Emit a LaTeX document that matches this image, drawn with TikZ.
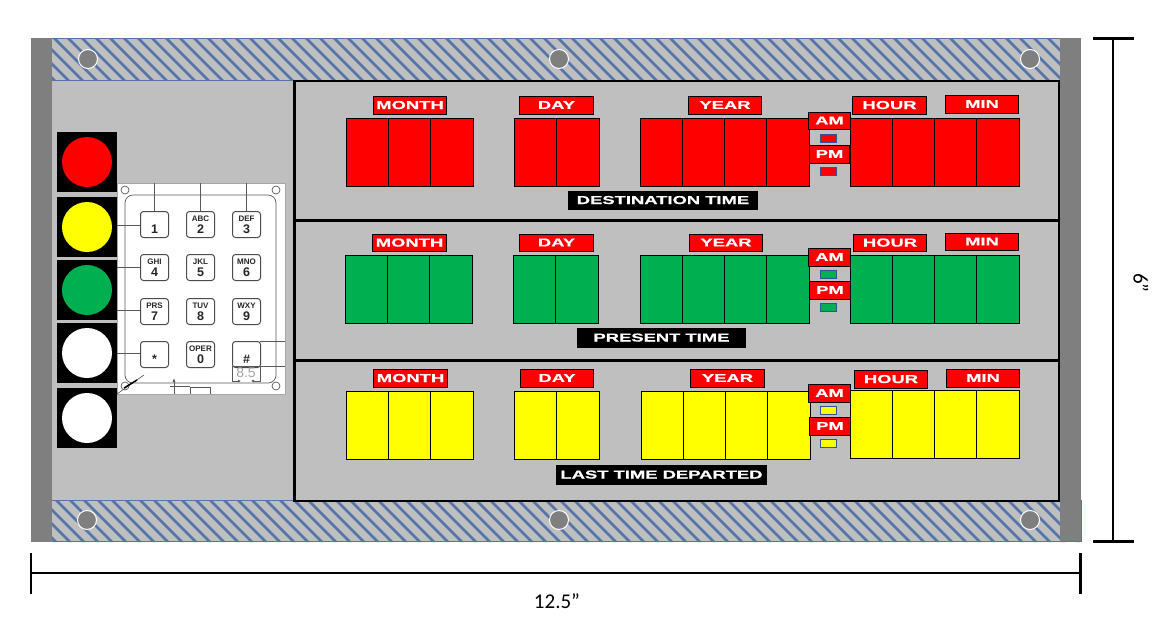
\documentclass[tikz,border=0pt]{standalone}
\usepackage{fontspec}
\setmainfont{Carlito}
\newfontfamily\widefont[FakeStretch=1.6,FakeBold=0.6]{Liberation Sans Bold}
\newfontfamily\keyfont{Liberation Sans Bold}
\newfontfamily\dimfont{Liberation Sans}
\usetikzlibrary{arrows.meta}
\definecolor{panelgrey}{HTML}{BFBFBF}
\definecolor{bargrey}{HTML}{7F7F7F}
\definecolor{hatchblue}{HTML}{5575A8}
\definecolor{okgreen}{HTML}{00B050}
\definecolor{smallblue}{HTML}{2F5597}
\definecolor{pureyellow}{HTML}{FFFF00}
\definecolor{purered}{HTML}{FF0000}
\tikzset{
 px/.style={x=1pt,y=-1pt},
 tagbox/.style={draw=black,line width=1pt,outer sep=0pt,fill=purered,text=white,inner sep=0pt,font=\widefont\fontsize{11.5}{12}\selectfont},
 capbox/.style={draw=black,line width=1pt,outer sep=0pt,fill=black,text=white,inner sep=0pt,font=\widefont\fontsize{11.5}{12}\selectfont},
 seg/.style={draw=black,line width=1pt},
 keybox/.style={draw=black!70,line width=1pt,rounded corners=3pt,fill=white,inner sep=0pt,align=center,text=black!85,anchor=north west,minimum width=28pt,minimum height=26pt},
 kline/.style={draw=black!65,line width=.7pt},
 screw/.style={draw=white,line width=1pt,fill=bargrey},
 dim/.style={draw=black,line width=2.6pt},
}
% box with text, by its corners: name, style, x1, y1, x2, y2, text
\newcommand{\labelbox}[7]{\node[#2,minimum width=#5pt-#3pt-1pt,minimum height=#6pt-#4pt-1pt,anchor=center] (#1) at ({(#3+#5)/2},{(#4+#6)/2}) {\raisebox{1pt}{#7}};}
\newcommand{\kk}[2]{{\keyfont\fontsize{8}{8}\selectfont #1}\\[0pt]{\keyfont\fontsize{12.5}{11}\selectfont #2}}
\begin{document}
\begin{tikzpicture}[px]
\useasboundingbox (0,0) rectangle (1162,622);
% panel
\fill[panelgrey] (31,38) rectangle (1081,542);
% hatched bands
\begin{scope}
 \clip (52,38) rectangle (1060,80) (52,500) rectangle (1081,542);
 \foreach \i in {0,...,84} {\draw[hatchblue,line width=2.6pt] ({\i*14-10},30) -- ({\i*14+50},90);}
 \foreach \i in {0,...,84} {\draw[hatchblue,line width=2.6pt] ({\i*14-10},490) -- ({\i*14+50},550);}
\end{scope}
\draw[hatchblue,line width=.9pt] (52,38.5) -- (1060,38.5) (52,80) -- (294,80) (52,500) -- (294,500) (31,541.5) -- (1081,541.5) -- (1081,500);
% side bars
\fill[bargrey] (31,38) rectangle (52,542);
\fill[bargrey] (1060,38) rectangle (1081,541);
% screws
\foreach \n/\x/\y in {s1/88/59,s2/559/59,s3/1030/59,s4/87/520,s5/559/520,s6/1030/520}
 \node[screw,circle,minimum size=19pt,inner sep=0pt] (\n) at (\x,\y) {};
% main frame
\draw[black,line width=2.6pt] (294.5,81) rectangle (1059,501);
\draw[black,line width=2.6pt] (294.5,220.5) -- (1059,220.5) (294.5,360.5) -- (1059,360.5);
% traffic lights
\foreach \n/\y/\c in {l1/132/purered,l2/197/pureyellow,l3/260/okgreen,l4/323/white,l5/388/white}{
 \fill[black] (57,\y) rectangle (117,\y+60);
 \node[circle,fill=\c,minimum size=50pt,inner sep=0pt] (\n) at (87,\y+30) {};
}
% keypad
\fill[white] (117,183) rectangle (285,394);
\draw[black!35,line width=.6pt] (117,183) rectangle (285,394);
\draw[kline,rounded corners=8pt] (125,195) rectangle (276,383);
\foreach \x/\y in {125/190,276/190,125/386,276/386}
 \draw[kline] (\x,\y) circle (4);
\foreach \x in {154,200,246} \draw[kline] (\x,183) -- (\x,211);
\foreach \y in {225,267,310,353} \draw[kline] (117,\y) -- (140,\y);
\foreach \n/\x/\y/\l/\d in {
 k1/140/211/\phantom{A}/1,k2/186/211/ABC/2,k3/232/211/DEF/3,
 k4/140/254/GHI/4,k5/186/254/JKL/5,k6/232/254/MNO/6,
 k7/140/298/PRS/7,k8/186/298/TUV/8,k9/232/298/WXY/9,
 ks/140/341/\phantom{A}/*,k0/186/341/OPER/0,kh/232/341/\phantom{A}/\#}{
 \node[keybox] (\n) at (\x,\y) {\kk{\l}{\d}};
}
\draw[kline] (260,341) -- (285,341) (232,366) -- (285,366) (232,366) -- (232,382) (260,366) -- (260,382);
\node[inner sep=0pt,text=black!35,font=\dimfont\fontsize{14}{14}\selectfont] (dim85) at (246,373) {8.5};
\draw[kline,-{Latex[length=3pt,width=3pt]}] (232,381) -- (241,381);
\draw[kline,-{Latex[length=3pt,width=3pt]}] (260,381) -- (251,381);
\draw[kline] (170,386) -- (190,386);
\draw[kline] (190,394) -- (190,387) -- (210,387) -- (210,394);
\draw[kline,-{Latex[length=4pt,width=3pt]}] (174,394) -- (174,378);
\draw[black!70,line width=.6pt] (117,394) -- (144,375);
\draw[black,line width=1.4pt] (124,388) -- (137,380);
% time rows
\begin{scope}[shift={(-0.1,-0.3)}]
\foreach \c/\ya/\yb/\yc/\yd/\xm/\xd/\xy/\xe in {
 purered/119/187/119/187/347/515/641/810,
 okgreen/256/324/256/324/346/514/641/810,
 pureyellow/392/460/391/459/347/515/642/811}{
 \pgfmathsetmacro{\xma}{\xm+42}\pgfmathsetmacro{\xmb}{\xm+84}\pgfmathsetmacro{\xmc}{\xm+127}
 \pgfmathsetmacro{\xda}{\xd+42}\pgfmathsetmacro{\xdb}{\xd+85}
 \pgfmathsetmacro{\xya}{\xy+42}\pgfmathsetmacro{\xyb}{\xy+84}\pgfmathsetmacro{\xyc}{\xy+126}
 \foreach \a/\b in {\xm/\xma,\xma/\xmb,\xmb/\xmc,\xd/\xda,\xda/\xdb,\xy/\xya,\xya/\xyb,\xyb/\xyc,\xyc/\xe}
   \draw[seg,fill=\c] (\a,\ya) rectangle (\b,\yb);
 \foreach \a/\b in {851/893,893/935,935/977,977/1019.5}
   \draw[seg,fill=\c] (\a,\yc) rectangle (\b,\yd);
}
\end{scope}
% labels row 1
\labelbox{a1}{tagbox}{373}{96}{447}{115}{MONTH}
\labelbox{a2}{tagbox}{519}{96}{594}{115}{DAY}
\labelbox{a3}{tagbox}{688}{96}{762}{115}{YEAR}
\labelbox{a4}{tagbox}{852}{96}{927}{115}{HOUR}
\labelbox{a5}{tagbox}{945}{95}{1019}{114}{MIN}
\labelbox{a6}{tagbox}{808}{112}{851}{130}{AM}
\labelbox{a7}{tagbox}{809}{145}{850}{164}{PM}
\labelbox{a8}{capbox}{568}{191}{758}{210}{DESTINATION TIME}
% labels row 2
\labelbox{b1}{tagbox}{372}{234}{447}{252}{MONTH}
\labelbox{b2}{tagbox}{519}{234}{594}{252}{DAY}
\labelbox{b3}{tagbox}{689}{234}{763}{252}{YEAR}
\labelbox{b4}{tagbox}{853}{234}{927}{252}{HOUR}
\labelbox{b5}{tagbox}{945}{233}{1019}{251}{MIN}
\labelbox{b6}{tagbox}{808}{248}{851}{267}{AM}
\labelbox{b7}{tagbox}{809}{281}{851}{300}{PM}
\labelbox{b8}{capbox}{577}{328}{746}{348}{PRESENT TIME}
% labels row 3
\labelbox{c1}{tagbox}{373}{369}{448}{388}{MONTH}
\labelbox{c2}{tagbox}{520}{369}{594}{388}{DAY}
\labelbox{c3}{tagbox}{690}{369}{765}{388}{YEAR}
\labelbox{c4}{tagbox}{854}{370}{928}{389}{HOUR}
\labelbox{c5}{tagbox}{946}{369}{1020}{388}{MIN}
\labelbox{c6}{tagbox}{808}{384}{851}{403}{AM}
\labelbox{c7}{tagbox}{809}{417}{851}{436}{PM}
\labelbox{c8}{capbox}{556}{465}{767}{485}{LAST TIME DEPARTED}
% small indicators
\foreach \y/\c in {134/purered,167/purered,270/okgreen,303/okgreen,406/pureyellow,439/pureyellow}
 \draw[smallblue,line width=.9pt,fill=\c] (820.5,\y) rectangle (836.5,\y+8);
% dimensions
\coordinate (wl) at (31,573); \coordinate (wr) at (1081,573);
\coordinate (ht) at (1113,38.5); \coordinate (hb) at (1113,541.5);
\draw[dim] (wl) -- (wr);
\draw[dim] (31,553) -- (31,594) (1080.5,553) -- (1080.5,594);
\draw[dim] (ht) -- (hb);
\draw[dim] (1093,38.5) -- (1134,38.5) (1093,541.5) -- (1134,541.5);
\node[inner sep=0pt,font=\fontsize{21}{21}\selectfont] (wtext) at (557,601) {12.5”};
\node[inner sep=0pt,rotate=-90,font=\fontsize{21}{21}\selectfont] (htext) at (1141,283) {6”};
\end{tikzpicture}
\end{document}
